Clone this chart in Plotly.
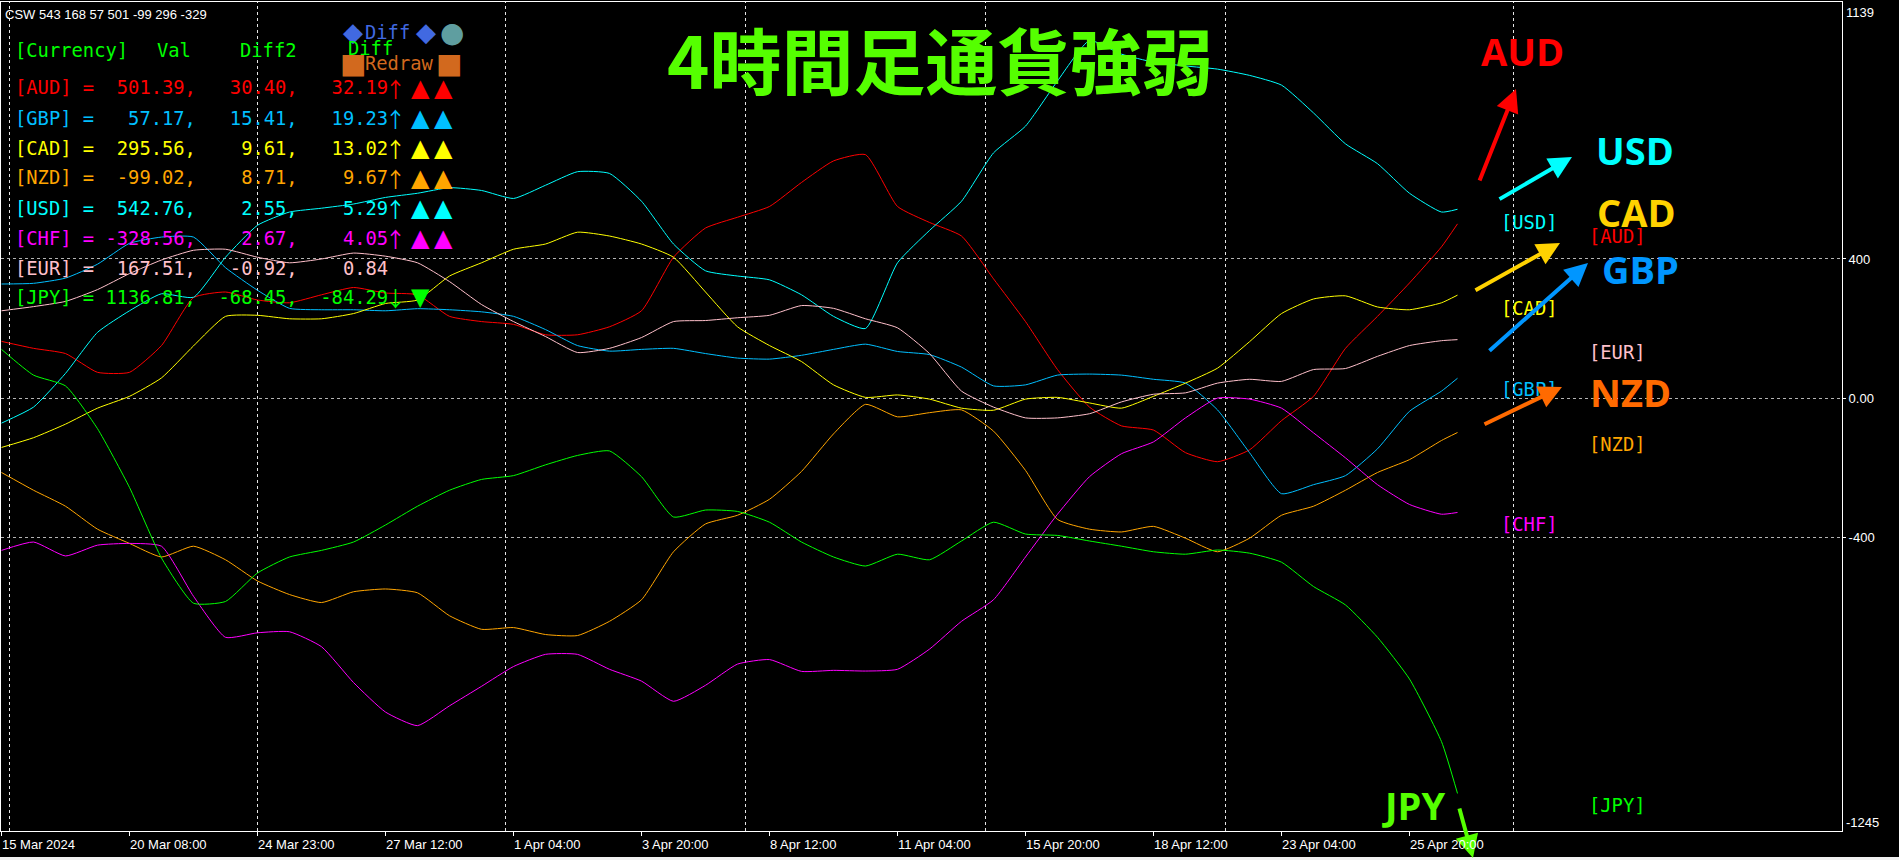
import plotly.graph_objects as go

# bar index of each sample (H4 bars, 15 Mar 2024 = bar 0)
bars = [0, 4, 8, 12, 16, 20, 24, 28, 32, 36, 40, 44, 48, 52, 56, 60, 64, 68, 72, 76,
        80, 84, 88, 92, 96, 100, 104, 108, 112, 116, 120, 124, 128, 132, 136, 140,
        144, 148, 152, 156, 160, 164, 168, 172, 176, 180, 182]

aud = [163, 143, 128, 74, 74, 151, 289, 305, 282, 274, 297, 318, 302, 297, 235, 220,
       212, 182, 182, 205, 251, 405, 489, 520, 551, 620, 682, 700, 551, 505, 466, 343,
       220, 82, -26, -80, -92, -157, -183, -149, -65, 5, 143, 235, 331, 435, 501]
gbp = [328, 330, 345, 385, 445, 463, 463, 375, 310, 258, 254, 254, 251, 257, 254, 248,
       235, 197, 151, 135, 140, 143, 128, 115, 112, 123, 140, 155, 134, 125, 89, 35,
       38, 66, 69, 66, 54, 43, -34, -157, -275, -249, -223, -146, -38, 20, 57]
cad = [-142, -114, -75, -29, 5, 58, 150, 235, 238, 228, 228, 243, 272, 282, 351, 389,
       428, 443, 477, 466, 443, 405, 305, 205, 151, 105, 38, 2, 9, -3, -29, -35,
       -3, 2, -14, -29, 5, 43, 86, 162, 243, 285, 294, 262, 254, 274, 296]
nzd = [-214, -265, -311, -377, -418, -457, -426, -465, -526, -565, -588, -557, -549, -560, -626, -665,
       -660, -680, -683, -642, -580, -442, -362, -337, -291, -211, -103, -18, -54, -42, -34, -95,
       -208, -349, -377, -385, -369, -403, -442, -403, -337, -311, -265, -214, -177, -122, -99]
usd = [-72, -26, 71, 189, 251, 300, 290, 405, 497, 535, 546, 558, 577, 589, 605, 597,
       574, 612, 651, 646, 566, 443, 366, 351, 340, 297, 235, 200, 389, 482, 566, 705,
       782, 912, 1028, 989, 966, 955, 946, 928, 900, 820, 731, 674, 589, 535, 543]
chf = [-438, -414, -454, -423, -418, -426, -570, -688, -675, -672, -715, -818, -903, -942, -885, -829,
       -772, -737, -737, -780, -814, -872, -826, -765, -752, -786, -783, -785, -780, -722, -642, -580,
       -457, -334, -226, -160, -126, -57, 0, -3, -29, -100, -172, -249, -306, -334, -329]
eur = [251, 263, 278, 312, 358, 397, 425, 428, 405, 389, 400, 417, 408, 389, 335, 269,
       220, 177, 131, 143, 174, 220, 223, 231, 238, 266, 258, 228, 202, 128, 20, -26,
       -57, -57, -45, -11, 11, 15, 43, 54, 48, 82, 85, 120, 151, 165, 168]
jpy = [140, 66, 35, -88, -257, -460, -590, -585, -503, -457, -438, -414, -365, -311, -265, -234,
       -223, -192, -165, -152, -226, -342, -322, -326, -357, -414, -457, -483, -449, -465, -411, -357,
       -391, -395, -411, -426, -442, -449, -437, -446, -472, -542, -595, -688, -808, -988, -1137]

currencies = ["AUD", "GBP", "CAD", "NZD", "USD", "CHF", "EUR", "JPY"]
series = [aud, gbp, cad, nzd, usd, chf, eur, jpy]
colors = ["#ff0000", "#00bfff", "#ffff00", "#ffa500", "#00ffff", "#ff00ff", "#ffc0cb", "#00ff00"]

# panel values
val = [501.39, 57.17, 295.56, -99.02, 542.76, -328.56, 167.51, 1136.81]
diff2 = [30.40, 15.41, 9.61, 8.71, 2.55, 2.67, -0.92, -68.45]
diff = [32.19, 19.23, 13.02, 9.67, 5.29, 4.05, 0.84, -84.29]
arrows = ["↑", "↑", "↑", "↑", "↑", "↑", "", "↓"]
marks = [["▲", "▲"], ["▲", "▲"], ["▲", "▲"], ["▲", "▲"], ["▲", "▲"], ["▲", "▲"], [], ["▼"]]

tick_bars = [0, 16, 32, 48, 64, 80, 96, 112, 128, 144, 160, 176]
tick_labels = ["15 Mar 2024", "20 Mar 08:00", "24 Mar 23:00", "27 Mar 12:00", "1 Apr 04:00",
               "3 Apr 20:00", "8 Apr 12:00", "11 Apr 04:00", "15 Apr 20:00", "18 Apr 12:00",
               "23 Apr 04:00", "25 Apr 20:00"]
vgrid_bars = [1, 32, 63, 93, 123, 153, 189]

W, H = 1899, 860
L, R, T, B = 1, 1842, 2, 831
MONO = "DejaVu Sans Mono"
SANS = "Liberation Sans"


def P(px, py):
    return (px - L) / (R - L), (B - py) / (B - T)


annots = []


def txt(s, px, py, color, size, family=MONO, xanchor="left", bold=False):
    x, y = P(px, py)
    annots.append(dict(x=x, y=y, xref="paper", yref="paper", text=s.replace(" ", "\u00a0"),
                       showarrow=False, xanchor=xanchor, yanchor="middle", borderpad=0,
                       font=dict(color=color, size=size, family=family,
                                 weight="bold" if bold else "normal")))


def arrow(tail, tip, color):
    x, y = P(*tip)
    annots.append(dict(x=x, y=y, xref="paper", yref="paper", text="",
                       showarrow=True, axref="pixel", ayref="pixel",
                       ax=tail[0] - tip[0], ay=tail[1] - tip[1],
                       arrowhead=2, arrowsize=1.15, arrowwidth=4, arrowcolor=color))


fig = go.Figure()
for name, ys, c in zip(currencies, series, colors):
    fig.add_trace(go.Scatter(x=bars, y=ys, mode="lines", name=name,
                             line=dict(color=c, width=1, shape="spline", smoothing=0.5),
                             hoverinfo="skip", showlegend=False))

# top-left panel
txt("CSW 543 168 57 501 -99 296 -329", 4, 14, "white", 13, SANS)
txt("◆", 353, 32, "#4169e1", 26, "DejaVu Sans", "center")
txt("Diff", 364, 32, "#4169e1", 18.8)
txt("◆", 426, 32, "#4169e1", 26, "DejaVu Sans", "center")
txt("●", 452, 32, "#5f9ea0", 28, "DejaVu Sans", "center")
txt("[Currency]", 14, 50, "#00ff00", 18.8)
txt("Val", 156, 50, "#00ff00", 18.8)
txt("Diff2", 239, 50, "#00ff00", 18.8)
txt("Diff", 347, 48, "#00ff00", 18.8)
txt("■", 353, 64, "#d2691e", 28, "DejaVu Sans", "center")
txt("Redraw", 364, 64, "#d2691e", 18.8)
txt("■", 449, 64, "#d2691e", 28, "DejaVu Sans", "center")

row_y = [88, 118, 148, 178, 208, 238, 268, 297]
for i, n in enumerate(currencies):
    s = "[" + n + "] =" + f"{val[i]:.2f},".rjust(9) + f"{diff2[i]:.2f},".rjust(9) + f"{diff[i]:.2f}".rjust(8)
    txt(s, 14, row_y[i], colors[i], 18.8)
    if arrows[i]:
        txt(arrows[i], 395, row_y[i], colors[i], 21, "Noto Sans CJK JP", "center")
    for k, m in enumerate(marks[i]):
        txt(m, 420 + 23 * k, row_y[i], colors[i], 24, "DejaVu Sans", "center")

# title
txt("4時間足通貨強弱", 940, 58, "#55ff00", 72, "Noto Sans CJK JP", "center", True)

# right side tags
tag_pos = {"USD": (1529, 222), "AUD": (1617, 237), "CAD": (1529, 308), "EUR": (1617, 352),
           "GBP": (1529, 390), "NZD": (1617, 445), "CHF": (1529, 524), "JPY": (1617, 805)}
for n, c in zip(currencies, colors):
    px, py = tag_pos[n]
    txt("[" + n + "]", px, py, c, 18.8, MONO, "center")

# big labels and arrows
big = [("AUD", 1522, 51, "#ff0000", (1479, 182), (1516, 89)),
       ("USD", 1635, 150, "#00ffff", (1498, 200), (1572, 157)),
       ("CAD", 1636, 212, "#ffd200", (1474, 291), (1560, 243)),
       ("GBP", 1640, 269, "#0096ff", (1488, 352), (1588, 263)),
       ("NZD", 1630, 392, "#ff6a00", (1483, 425), (1562, 387)),
       ("JPY", 1413, 805, "#55ff00", (1459, 807), (1473, 858))]
for n, px, py, c, tail, tip in big:
    txt(n, px, py, c, 38, "Open Sans", "center", True)
    arrow(tail, tip, c)

# y axis end labels
txt("1139", 1845, 12, "white", 13, SANS)
txt("-1245", 1845, 822, "white", 13, SANS)

# x tick labels (left aligned on the tick)
for b, lab in zip(tick_bars, tick_labels):
    annots.append(dict(x=b, y=(B - 845) / (B - T), xref="x", yref="paper", text=lab,
                       showarrow=False, xanchor="left", yanchor="middle", xshift=-2,
                       font=dict(color="white", size=13, family=SANS)))

shapes = []
for b in vgrid_bars:
    shapes.append(dict(type="line", xref="x", yref="paper", x0=b, x1=b, y0=0, y1=1,
                       line=dict(color="#e6e6e6", width=1, dash="3px,3px"), layer="below"))
shapes.append(dict(type="rect", xref="paper", yref="paper", x0=-0.01, x1=1.04,
                   y0=(B - 857) / (B - T), y1=(B - 861) / (B - T),
                   line=dict(width=0), fillcolor="#f0f0f0"))

x_lo = (L - 1.5) / 8
x_hi = (R - 1.5) / 8
fig.update_layout(
    width=W, height=H,
    paper_bgcolor="black", plot_bgcolor="black",
    margin=dict(l=L, r=W - R, t=T, b=H - B, pad=0),
    annotations=annots, shapes=shapes,
    xaxis=dict(range=[x_lo, x_hi], tickvals=tick_bars, showticklabels=False,
               ticks="outside", ticklen=4, tickcolor="white", showgrid=False,
               zeroline=False, showline=True, linecolor="white", mirror=True, fixedrange=True),
    yaxis=dict(range=[-1245, 1139], side="right", tickvals=[400, 0, -400],
               ticktext=["400", "0.00", "-400"], ticks="outside", ticklen=3,
               tickcolor="white", tickfont=dict(color="white", size=13, family=SANS),
               showgrid=True, gridcolor="#b4b4b4", griddash="3px,3px", gridwidth=1,
               zeroline=False, showline=True, linecolor="white", mirror=True, fixedrange=True),
)

# the page body has a default 8px margin; drop it so the figure sits at the window corner
fig.write_html("out.html", config={"displayModeBar": False},
               post_script="document.body.style.margin='0px';document.body.style.background='black';")
